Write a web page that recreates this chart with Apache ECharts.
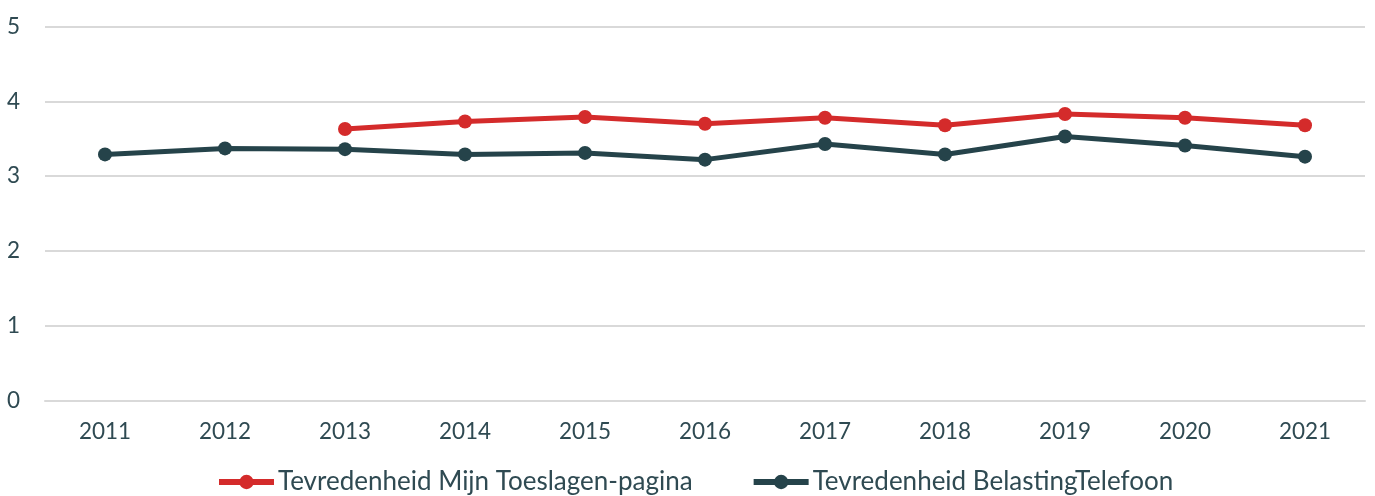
<!DOCTYPE html>
<html>
<head>
<meta charset="utf-8">
<style>
  html, body { margin: 0; padding: 0; background: #ffffff; }
  #chart { width: 1375px; height: 496px; }
</style>
<script src="https://cdn.jsdelivr.net/npm/echarts@6/dist/echarts.min.js"></script>
</head>
<body>
<div id="chart"></div>
<script>
// Years on the horizontal axis
const years = ['2011', '2012', '2013', '2014', '2015', '2016', '2017', '2018', '2019', '2020', '2021'];

// Satisfaction scores (scale 0–5); no Toeslagen-page measurement before 2013
const toeslagenPagina = [null, null, 3.63, 3.73, 3.79, 3.70, 3.78, 3.68, 3.83, 3.78, 3.68];
const belastingTelefoon = [3.29, 3.37, 3.36, 3.29, 3.31, 3.22, 3.43, 3.29, 3.53, 3.41, 3.26];

const seriesNames = ['Tevredenheid Mijn Toeslagen-pagina', 'Tevredenheid BelastingTelefoon'];

const textColor = '#2f4a52';
const fontFamily = 'Lato, "Open Sans", sans-serif';
const red = '#d42b2b';
const slate = '#25434a';

const chart = echarts.init(document.getElementById('chart'), null, { renderer: 'canvas' });

chart.setOption({
  animation: false,
  grid: { left: 45, right: 10, top: 26.5, bottom: 95.5 },
  legend: {
    top: 464,
    left: 211,
    itemWidth: 55,
    itemHeight: 18,
    itemGap: 58,
    lineStyle: { width: 6 },
    textStyle: { color: textColor, fontSize: 26, fontFamily: fontFamily, padding: [0, 0, 0, -1] },
    data: seriesNames
  },
  xAxis: {
    type: 'category',
    data: years,
    boundaryGap: true,
    axisLine: { show: true, lineStyle: { color: '#d9d9d9', width: 2 } },
    axisTick: { show: false },
    axisLabel: { color: textColor, fontSize: 22.5, fontFamily: fontFamily, margin: 20 }
  },
  yAxis: {
    type: 'value',
    min: 0,
    max: 5,
    interval: 1,
    axisLine: { show: false },
    axisTick: { show: false },
    axisLabel: { color: textColor, fontSize: 22.5, fontFamily: fontFamily, margin: 25, align: 'right' },
    splitLine: { lineStyle: { color: '#d9d9d9', width: 2 } }
  },
  series: [
    {
      name: seriesNames[0],
      type: 'line',
      data: toeslagenPagina,
      connectNulls: false,
      symbol: 'circle',
      symbolSize: 14,
      itemStyle: { color: red },
      lineStyle: { color: red, width: 5 }
    },
    {
      name: seriesNames[1],
      type: 'line',
      data: belastingTelefoon,
      symbol: 'circle',
      symbolSize: 14,
      itemStyle: { color: slate },
      lineStyle: { color: slate, width: 5 }
    }
  ]
});
</script>
</body>
</html>
